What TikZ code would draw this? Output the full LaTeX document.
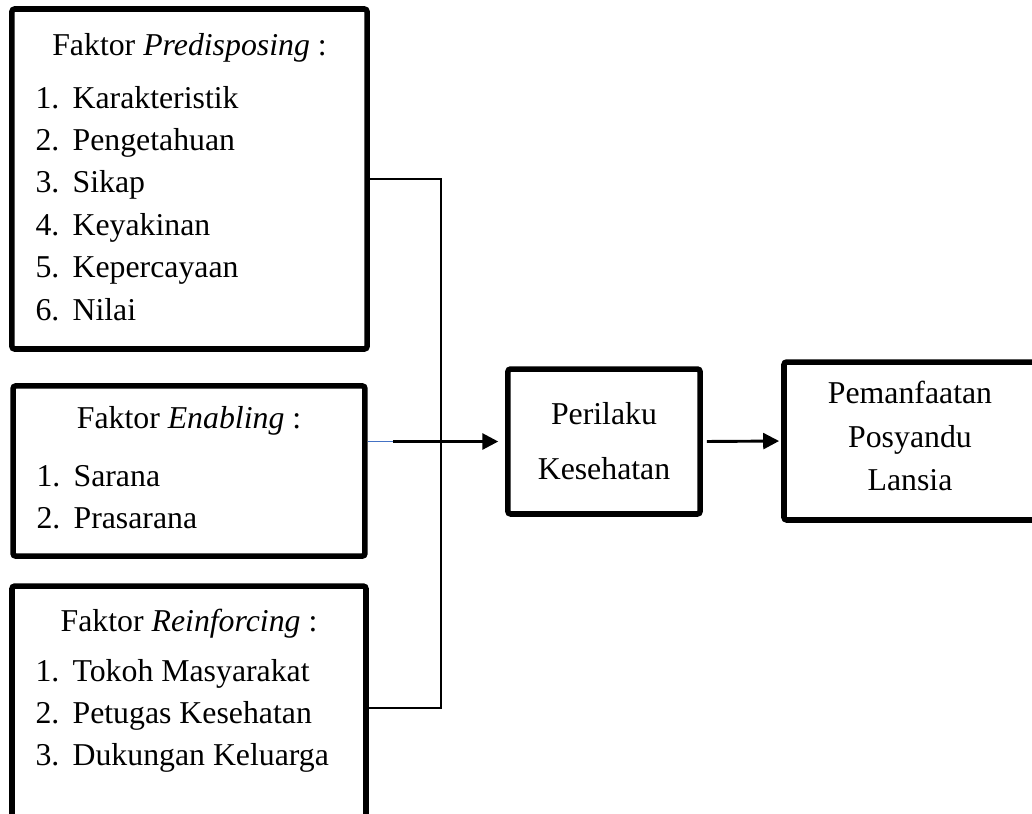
\documentclass[tikz,border=0pt]{standalone}
\usepackage{fontspec}
\setmainfont{Liberation Serif}
\usetikzlibrary{arrows.meta}

\newcommand{\itm}[2]{\makebox[14pt][l]{#1}#2}

\begin{document}
\begin{tikzpicture}[x=0.3774pt, y=-0.3774pt,
  box/.style={draw, line width=2.1pt, rounded corners=1pt, inner sep=0pt},
  txt/.style={font=\fontsize{12}{16.3}\selectfont, inner sep=0pt},
  link/.style={line width=0.6pt},
  arrow/.style={line width=1.1pt, -{Triangle[length=6pt,width=6pt]}}]
  \useasboundingbox (0,0) rectangle (1032,813);
  \clip (0,0) rectangle (1032,813);
  % Factor boxes
  \node[box, minimum width=134pt, minimum height=128.3pt] (pre) at (189.5,179) {};
  \node[box, minimum width=132.8pt, minimum height=64.2pt] (ena) at (189,471) {};
  \node[box, minimum width=133.6pt, minimum height=92pt] (rei) at (189,708) {};
  % Result boxes
  \node[box, minimum width=72.5pt, minimum height=54.7pt] (perilaku) at (604,441.5) {};
  \node[box, minimum width=95.1pt, minimum height=59.6pt] (manfaat) at (910,441) {};
  % Labels
  \node[txt, align=center] (perilakuT) at (604,441) {Perilaku\\[4.4pt]Kesehatan};
  \node[txt, align=center] (manfaatT) at (910,436) {Pemanfaatan\\Posyandu\\Lansia};
  % Predisposing
  \node[txt, anchor=base] (preT) at (189.5,55) {Faktor \textit{Predisposing} :};
  \node[txt, anchor=base west] (pre1) at (35,108) {\itm{1.}{Karakteristik}};
  \node[txt, anchor=base west] (pre2) at (35,150.4) {\itm{2.}{Pengetahuan}};
  \node[txt, anchor=base west] (pre3) at (35,192.8) {\itm{3.}{Sikap}};
  \node[txt, anchor=base west] (pre4) at (35,235.2) {\itm{4.}{Keyakinan}};
  \node[txt, anchor=base west] (pre5) at (35,277.6) {\itm{5.}{Kepercayaan}};
  \node[txt, anchor=base west] (pre6) at (35,320) {\itm{6.}{Nilai}};
  % Enabling
  \node[txt, anchor=base] (enaT) at (189,428) {Faktor \textit{Enabling} :};
  \node[txt, anchor=base west] (ena1) at (36,486) {\itm{1.}{Sarana}};
  \node[txt, anchor=base west] (ena2) at (36,528) {\itm{2.}{Prasarana}};
  % Reinforcing
  \node[txt, anchor=base] (reiT) at (189,631) {Faktor \textit{Reinforcing} :};
  \node[txt, anchor=base west] (rei1) at (35,681) {\itm{1.}{Tokoh Masyarakat}};
  \node[txt, anchor=base west] (rei2) at (35,723) {\itm{2.}{Petugas Kesehatan}};
  \node[txt, anchor=base west] (rei3) at (35,765) {\itm{3.}{Dukungan Keluarga}};
  % Connectors
  \coordinate (bus) at (441,441.5);
  \coordinate (split) at (393,441.5);
  \draw[link] (pre.east) -| (bus) |- (rei.east);
  \draw[line width=0.7pt, color={rgb,255:red,68;green,114;blue,196}] (ena.east |- perilaku.west) -- (split);
  \draw[arrow, shorten >=2.6pt] (split) -- (perilaku.west);
  \draw[arrow, shorten >=0.8pt, shorten <=1.5pt] (perilaku.east) -- (manfaat.west);
\end{tikzpicture}
\end{document}
